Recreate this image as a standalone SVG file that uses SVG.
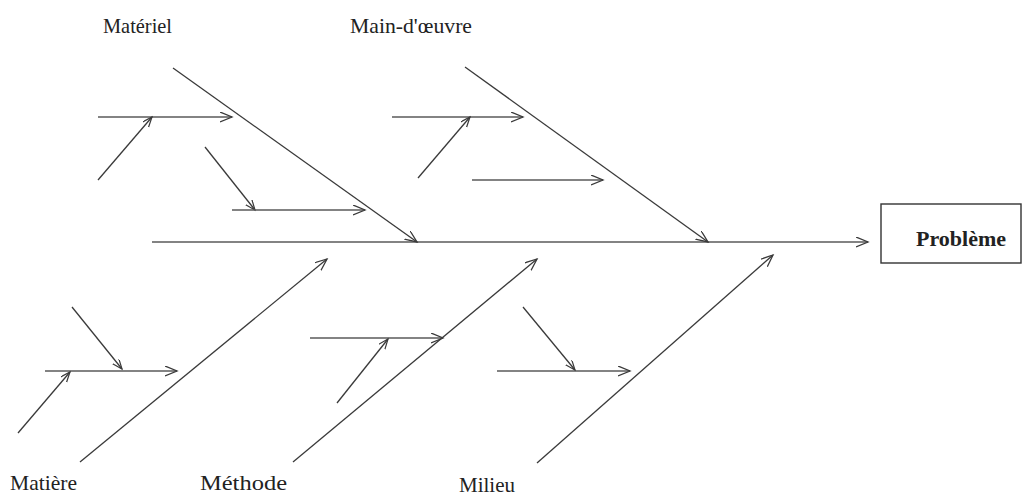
<svg xmlns="http://www.w3.org/2000/svg" width="1024" height="495" viewBox="0 0 1024 495">
<style>
.lbl{font-family:"Liberation Serif","Times New Roman",serif;font-size:21px;fill:#222}
.prob{font-family:"Liberation Serif","Times New Roman",serif;font-size:21px;font-weight:bold;fill:#222}
.ln{stroke:#3a3a3a;stroke-width:1.3;fill:none}
.hz{stroke:#5a5a5a;stroke-width:1.5;fill:none}
.box{fill:#fff;stroke:#333;stroke-width:1.4}
</style>
<defs>
<marker id="ah" markerUnits="userSpaceOnUse" markerWidth="14" markerHeight="12" refX="12" refY="5" orient="auto" viewBox="0 0 14 12">
<path d="M0,0 L12,5 L0,10" fill="none" stroke="#3a3a3a" stroke-width="1.3"/>
</marker>
<marker id="as" markerUnits="userSpaceOnUse" markerWidth="12" markerHeight="10" refX="10" refY="4" orient="auto" viewBox="0 0 12 10">
<path d="M0,0 L10,4 L0,8" fill="none" stroke="#3a3a3a" stroke-width="1.2"/>
</marker>
</defs>
<rect width="1024" height="495" fill="#fff"/>
<g id="connectors">
<line class="hz" x1="152" y1="242" x2="868" y2="242" marker-end="url(#ah)"/>
<line class="ln" x1="173" y1="68" x2="417" y2="242" marker-end="url(#ah)"/>
<line class="hz" x1="98" y1="117" x2="232" y2="117" marker-end="url(#ah)"/>
<line class="ln" x1="98" y1="180" x2="152" y2="117" marker-end="url(#as)"/>
<line class="ln" x1="205" y1="147" x2="255" y2="210" marker-end="url(#as)"/>
<line class="hz" x1="232" y1="210" x2="365" y2="210" marker-end="url(#ah)"/>
<line class="ln" x1="465" y1="67" x2="708" y2="242" marker-end="url(#ah)"/>
<line class="hz" x1="392" y1="117" x2="523" y2="117" marker-end="url(#ah)"/>
<line class="ln" x1="418" y1="178" x2="470" y2="117" marker-end="url(#as)"/>
<line class="hz" x1="472" y1="180" x2="603" y2="180" marker-end="url(#ah)"/>
<line class="ln" x1="80" y1="462" x2="327" y2="259" marker-end="url(#ah)"/>
<line class="hz" x1="45" y1="371" x2="177" y2="371" marker-end="url(#ah)"/>
<line class="ln" x1="18" y1="433" x2="70" y2="372" marker-end="url(#as)"/>
<line class="ln" x1="72" y1="307" x2="122" y2="369" marker-end="url(#as)"/>
<line class="ln" x1="293" y1="462" x2="537" y2="259" marker-end="url(#ah)"/>
<line class="hz" x1="310" y1="338" x2="443" y2="338" marker-end="url(#ah)"/>
<line class="ln" x1="337" y1="403" x2="388" y2="339" marker-end="url(#as)"/>
<line class="ln" x1="537" y1="463" x2="773" y2="255" marker-end="url(#ah)"/>
<line class="hz" x1="497" y1="371" x2="630" y2="371" marker-end="url(#ah)"/>
<line class="ln" x1="523" y1="307" x2="575" y2="370" marker-end="url(#as)"/>
</g>
<g id="probleme">
<rect class="box" x="881" y="204" width="140" height="59"/>
<text class="prob" x="916" y="246" textLength="90" lengthAdjust="spacingAndGlyphs">Problème</text>
</g>
<g id="materiel"><text class="lbl" x="103" y="33" textLength="69" lengthAdjust="spacingAndGlyphs">Matériel</text></g>
<g id="main-oeuvre"><text class="lbl" x="350" y="33" textLength="122" lengthAdjust="spacingAndGlyphs">Main-d'œuvre</text></g>
<g id="matiere"><text class="lbl" x="10" y="490" textLength="67" lengthAdjust="spacingAndGlyphs">Matière</text></g>
<g id="methode"><text class="lbl" x="200" y="490" textLength="87" lengthAdjust="spacingAndGlyphs">Méthode</text></g>
<g id="milieu"><text class="lbl" x="459" y="492" textLength="56" lengthAdjust="spacingAndGlyphs">Milieu</text></g>
</svg>
